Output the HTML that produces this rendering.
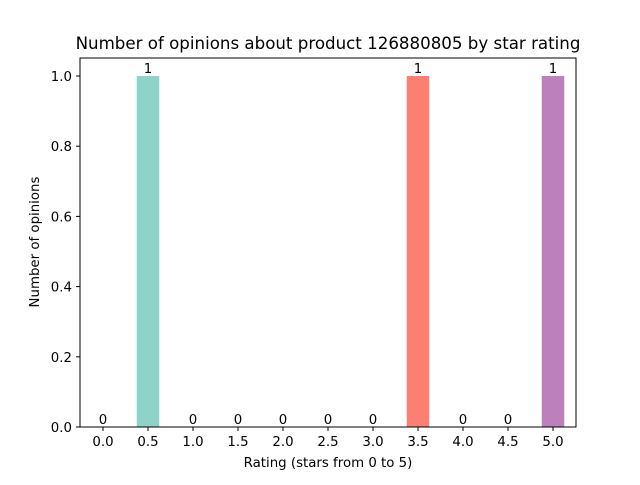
<!DOCTYPE html>
<html><head><meta charset="utf-8"><style>
body{margin:0;background:#fff;}
svg text{font-family:"DejaVu Sans","Liberation Sans",sans-serif;fill:#000;}
</style></head><body>
<svg id="chart" width="640" height="480" xmlns="http://www.w3.org/2000/svg">
<rect width="640" height="480" fill="#fff"/>
<text x="328" y="49" font-size="16.67" text-anchor="middle">Number of opinions about product 126880805 by star rating</text>
<g id="bars"></g>
<g id="axes"></g>
<rect x="80" y="58" width="496" height="369" fill="none" stroke="#000" stroke-width="1"/>
<text x="328" y="467" font-size="13.33" text-anchor="middle">Rating (stars from 0 to 5)</text>
<text x="0" y="0" font-size="13.33" text-anchor="middle" transform="translate(39,242) rotate(-90)">Number of opinions</text>
</svg>
<script>
const categories=["0.0","0.5","1.0","1.5","2.0","2.5","3.0","3.5","4.0","4.5","5.0"];
const counts=[0,1,0,0,0,0,0,1,0,0,1];
const colors=["#8dd3c7","#8dd3c7","#ffffb3","#bebada","#fb8072","#80b1d3","#fdb462","#fb8072","#b3de69","#fccde5","#bc80bd"];
const yTicks=[0,0.2,0.4,0.6,0.8,1.0];
const NS="http://www.w3.org/2000/svg";
function xs(i){return 103+45*i;}
function ys(v){return 427-351*v;}
const bars=document.getElementById('bars'),axes=document.getElementById('axes');
function mk(tag,attrs,parent){const e=document.createElementNS(NS,tag);for(const k in attrs)e.setAttribute(k,attrs[k]);parent.appendChild(e);return e;}
categories.forEach((c,i)=>{
  const v=counts[i];
  const r=mk('rect',{x:xs(i)-11.25,y:ys(v),width:22.5,height:ys(0)-ys(v),fill:colors[i]},bars);
  
  
  const t=mk('text',{x:xs(i),y:ys(v)-3,'font-size':13.33,'text-anchor':'middle'},bars);
  t.textContent=String(v);
  
  
  mk('line',{x1:xs(i),x2:xs(i),y1:427,y2:431,stroke:'#000'},axes);
  const tl=mk('text',{x:xs(i),y:446,'font-size':13.33,'text-anchor':'middle'},axes);
  tl.textContent=c;
  
  
});
yTicks.forEach(v=>{
  mk('line',{x1:76,x2:80,y1:ys(v),y2:ys(v),stroke:'#000'},axes);
  const tl=mk('text',{x:72,y:ys(v)+5,'font-size':13.33,'text-anchor':'end'},axes);
  tl.textContent=v.toFixed(1);
  
  
});
</script>
</body></html>
